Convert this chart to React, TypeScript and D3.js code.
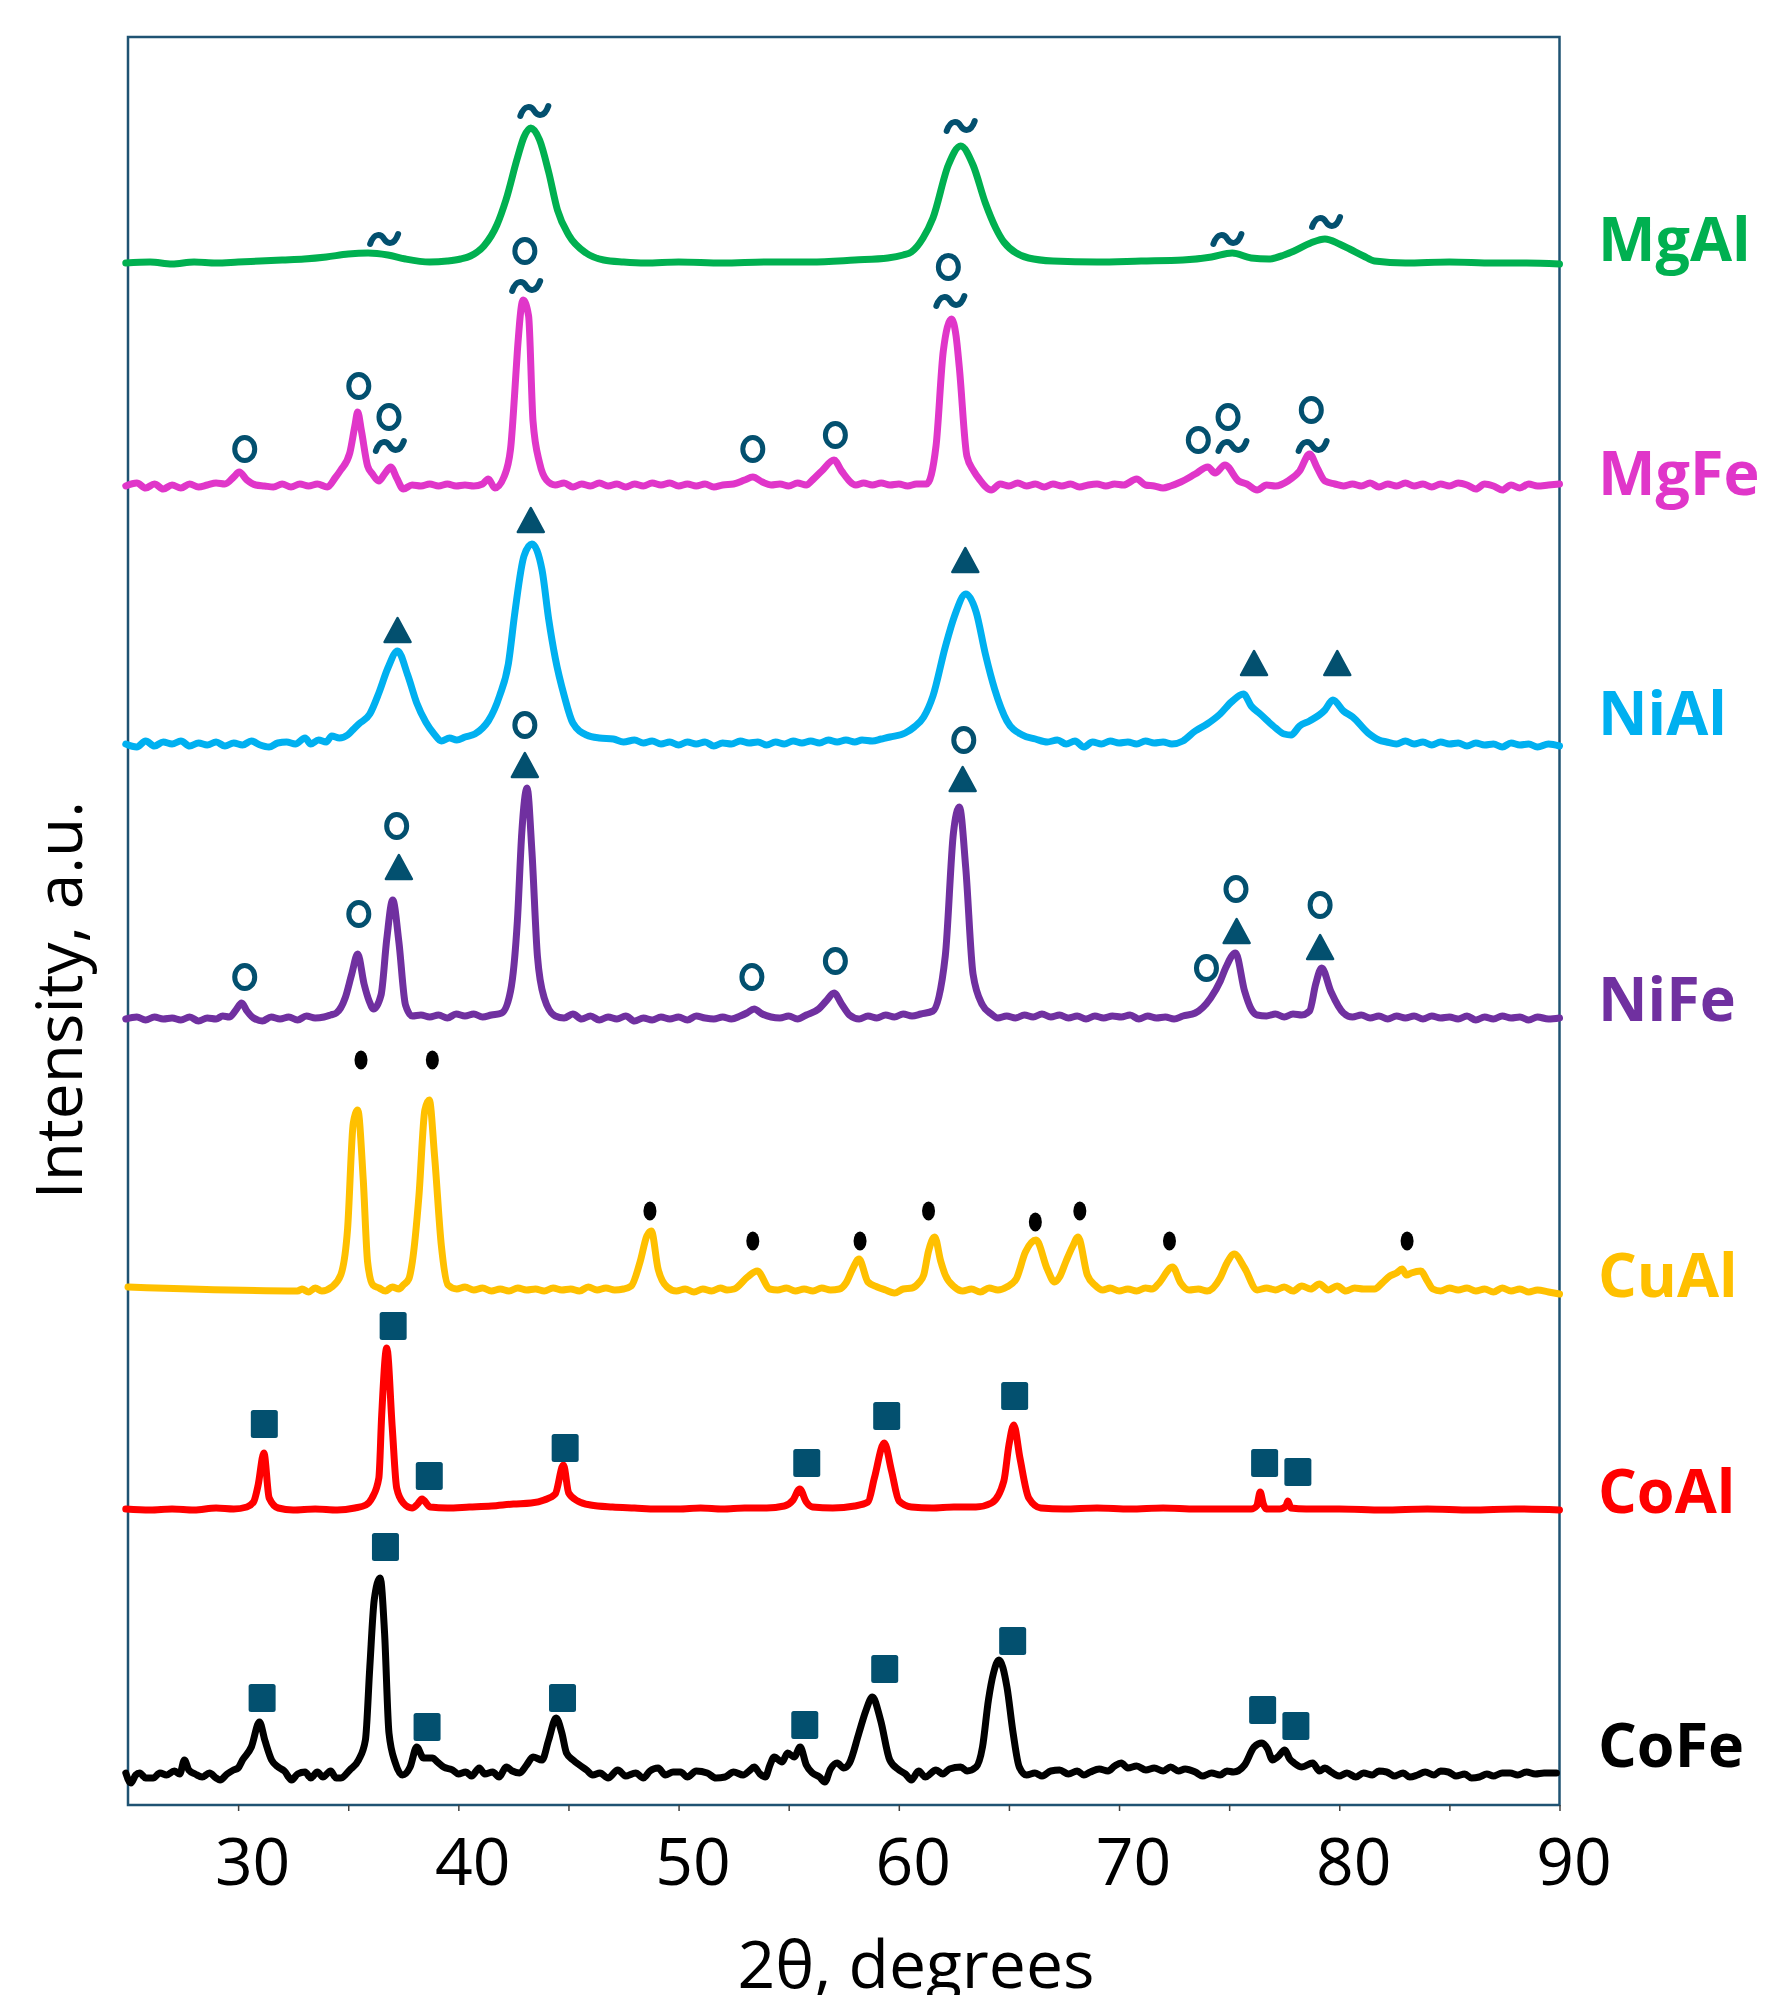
import * as d3 from 'd3'
import {useEffect, useRef} from 'react'

type Pt = [number, number]
type Mark = [number, number, string]

// 2θ (deg), intensity above the pattern's own baseline (a.u.)
const mgAl: Pt[] = [
  [24.9, 0], [26, 1], [27, -1], [28, 1], [29, 0], [30, 1], [31, 2], [32, 3], [33, 4], [34, 6], [35, 9], [35.9, 10],
  [36.8, 8], [37.6, 4], [38.7, 1], [39.5, 2], [40.1, 4], [40.55, 7], [41.16, 17], [41.75, 38], [42.16, 63], [42.68, 105],
  [42.98, 126], [43.29, 135], [43.69, 123], [44.1, 91], [44.5, 53], [45.01, 28], [45.8, 10], [46.6, 3], [47.5, 1],
  [48.5, 0], [50, 1], [52, 0], [54, 1], [56, 1], [58, 3], [59.5, 5], [60.2, 8], [60.57, 11], [61.1, 25], [61.55, 45],
  [62.25, 98], [62.81, 117], [63.37, 98], [63.93, 60], [64.4, 35], [64.77, 21], [65.89, 5], [67, 2], [69, 1], [71, 2],
  [72.9, 3], [74.2, 6], [75.14, 10], [76.0, 5], [76.8, 4], [77.5, 8], [77.95, 12], [78.7, 20], [79.35, 24], [80.0, 19],
  [80.47, 14], [81.1, 7], [81.6, 2], [83, 0], [85, 1], [87, 0], [88.5, 0], [90, -1],
]

const mgFe: Pt[] = [
  [24.9, 0], [25.4, 3], [25.8, -2], [26.2, 2], [26.6, -3], [27, 1], [27.4, -2], [27.8, 2], [28.2, -1], [28.6, 1], [29.0, 3],
  [29.4, 2], [29.8, 9], [30.05, 14], [30.4, 6], [30.8, 1], [31.2, 0], [31.6, -1], [32.0, 2], [32.4, -1], [32.8, 2], [33.2, 0],
  [33.6, 2], [34.05, -1], [34.4, 8], [34.66, 16], [35.07, 33], [35.3, 60], [35.43, 74], [35.6, 55], [35.88, 20], [36.1, 12],
  [36.39, 5], [36.65, 12], [36.93, 19], [37.2, 8], [37.5, -3], [37.9, 1], [38.3, 0], [38.7, 2], [39.1, 0], [39.5, 2], [39.9, 0],
  [40.3, 1], [40.7, 0], [41.1, 2], [41.36, 7], [41.66, -2], [42.07, 9], [42.37, 37], [42.55, 90], [42.68, 135], [42.94, 186],
  [43.19, 170], [43.39, 65], [43.69, 23], [44.0, 6], [44.4, 1], [44.8, 3], [45.2, -1], [45.6, 2], [46.0, 0], [46.4, 3], [46.8, 0],
  [47.2, 2], [47.6, -1], [48, 2], [48.4, 0], [48.8, 3], [49.2, 1], [49.6, 3], [50.0, 0], [50.4, 2], [50.8, 0], [51.2, 2],
  [51.6, -1], [52.0, 1], [52.5, 2], [53.0, 6], [53.37, 9], [53.8, 4], [54.2, 1], [54.6, 2], [55.0, 0], [55.4, 3], [55.8, 1],
  [56.08, 6], [56.5, 15], [57.06, 26], [57.4, 15], [58.05, 1], [58.4, 3], [58.8, 1], [59.2, 3], [59.6, 1], [60.0, 2], [60.4, 0],
  [60.8, 2], [61.27, 2], [61.69, 40], [62.02, 135], [62.39, 167], [62.6, 150], [62.75, 118], [63.09, 30], [63.4, 15],
  [63.65, 7], [64.2, -4], [64.6, 2], [65.0, 0], [65.4, 3], [65.8, 0], [66.2, 2], [66.6, -1], [67.0, 2], [67.4, 0], [67.8, 2],
  [68.2, -1], [68.6, 1], [69.0, 2], [69.4, 0], [69.8, 2], [70.2, 1], [70.8, 7], [71.2, 1], [71.6, 0], [72.0, -2], [72.34, 0],
  [72.8, 4], [73.46, 12], [74.03, 19], [74.36, 13], [74.81, 21], [75.43, 5], [75.8, 2], [76.27, -4], [76.7, 1], [77.1, 0],
  [77.67, 5], [78.2, 15], [78.65, 32], [79.0, 18], [79.35, 5], [79.8, 2], [80.19, 0], [80.6, 2], [81.0, 0], [81.4, 3],
  [81.8, -1], [82.2, 2], [82.6, 0], [83.0, 3], [83.4, 0], [83.8, 2], [84.2, -1], [84.6, 2], [85.0, 0], [85.4, 3], [85.8, 1],
  [86.2, -3], [86.6, 2], [87.0, 0], [87.4, -4], [87.8, 1], [88.2, -2], [88.6, 2], [89.0, 0], [89.5, 1], [90, 2],
]

const niAl: Pt[] = [
  [24.9, 0], [25.4, -3], [25.8, 3], [26.2, -2], [26.6, 2], [27.0, 0], [27.4, 3], [27.8, -2], [28.2, 1], [28.6, -1], [29.0, 2],
  [29.4, -2], [29.8, 1], [30.2, -1], [30.6, 3], [31.0, -1], [31.4, -3], [31.8, 1], [32.2, 2], [32.6, 0], [33.04, 6], [33.3, 0],
  [33.65, 4], [34.0, 2], [34.25, 8], [34.6, 6], [34.97, 9], [35.2, 14], [35.48, 20], [35.98, 30], [36.39, 51], [36.8, 76],
  [37.24, 93], [37.7, 69], [38.11, 41], [38.52, 22], [38.9, 10], [39.23, 3], [39.6, 6], [39.93, 4], [40.3, 7], [40.75, 10],
  [41.1, 16], [41.36, 23], [41.87, 48], [42.27, 80], [42.57, 132], [42.98, 188], [43.34, 200], [43.8, 174], [44.1, 125],
  [44.4, 86], [44.81, 48], [45.2, 21], [45.82, 9], [46.4, 6], [47.04, 5], [47.5, 2], [48.0, 4], [48.4, 1], [48.8, 3], [49.2, 0],
  [49.6, 2], [50.0, -1], [50.4, 2], [50.8, 0], [51.2, 2], [51.6, -2], [52.0, 1], [52.4, 0], [52.8, 3], [53.2, 1], [53.6, 2],
  [54.0, -1], [54.4, 2], [54.8, 0], [55.2, 3], [55.6, 1], [56.0, 3], [56.4, 1], [56.8, 4], [57.2, 2], [57.6, 4], [58.0, 2],
  [58.33, 4], [58.8, 3], [59.2, 5], [59.6, 7], [60.29, 11], [60.7, 17], [61.13, 27], [61.55, 48], [62.11, 97], [62.53, 128],
  [63.04, 150], [63.51, 132], [63.93, 90], [64.35, 55], [64.91, 23], [65.61, 9], [66.2, 5], [66.74, 2], [67.2, 4], [67.6, 0],
  [68.0, 3], [68.4, -3], [68.8, 2], [69.2, 0], [69.6, 3], [70.0, 1], [70.4, 2], [70.8, 0], [71.2, 3], [71.6, 1], [72.0, 2],
  [72.4, 0], [72.9, 3], [73.46, 13], [74.0, 20], [74.59, 30], [75.1, 42], [75.65, 50], [76.0, 38], [76.41, 30], [77.11, 16],
  [77.5, 10], [77.81, 9], [78.2, 18], [78.65, 23], [79.35, 34], [79.71, 44], [80.19, 33], [80.61, 27], [81.31, 11], [81.8, 4],
  [82.15, 2], [82.6, 0], [83.0, 3], [83.4, 0], [83.8, 2], [84.2, -1], [84.6, 2], [85.0, 0], [85.4, 1], [85.8, -2], [86.2, 1],
  [86.6, -1], [87.0, 0], [87.4, -3], [87.8, 1], [88.2, -1], [88.6, 0], [89.0, -3], [89.5, 0], [90, -2],
]

const niFe: Pt[] = [
  [24.9, 0], [25.4, 2], [25.8, -1], [26.2, 2], [26.6, 0], [27.0, 1], [27.4, -1], [27.8, 2], [28.2, -2], [28.6, 1], [29.0, 0],
  [29.3, 3], [29.6, 2], [29.9, 9], [30.16, 16], [30.4, 8], [30.7, 1], [31.1, -2], [31.5, 2], [31.9, 0], [32.3, 2], [32.7, -1],
  [33.1, 3], [33.5, 1], [33.9, 2], [34.2, 4], [34.46, 6], [34.86, 21], [35.16, 45], [35.43, 65], [35.72, 35], [35.95, 18],
  [36.15, 10], [36.49, 24], [36.75, 80], [37.02, 119], [37.3, 77], [37.6, 14], [37.91, 3], [38.3, 4], [38.7, 2], [39.1, 4],
  [39.5, 1], [39.9, 5], [40.3, 3], [40.7, 5], [41.1, 2], [41.5, 4], [41.97, 6], [42.37, 28], [42.68, 98], [42.88, 186],
  [43.12, 231], [43.34, 168], [43.59, 63], [43.9, 21], [44.4, 3], [44.8, 1], [45.2, 5], [45.6, 0], [46.0, 3], [46.4, -1],
  [46.8, 2], [47.2, 0], [47.6, 3], [48.0, -2], [48.4, 1], [48.8, -1], [49.2, 2], [49.6, 0], [50.0, 2], [50.4, -1], [50.8, 3],
  [51.2, 1], [51.6, 0], [52.0, 2], [52.4, 0], [52.8, 3], [53.1, 6], [53.43, 10], [53.8, 5], [54.2, 2], [54.6, 1], [55.0, 3],
  [55.4, 0], [55.8, 4], [56.36, 10], [56.7, 18], [57.06, 26], [57.4, 15], [57.76, 4], [58.2, 0], [58.6, 3], [59.0, 1], [59.4, 4],
  [59.8, 2], [60.2, 5], [60.6, 3], [61.0, 5], [61.55, 8], [62.11, 63], [62.48, 186], [62.75, 212], [63.04, 151], [63.37, 45],
  [63.8, 14], [64.2, 5], [64.49, 1], [64.9, 3], [65.3, 1], [65.7, 4], [66.1, 2], [66.5, 5], [66.9, 2], [67.3, 4], [67.7, 1],
  [68.1, 3], [68.5, 0], [68.9, 3], [69.3, 1], [69.7, 3], [70.1, 2], [70.5, 4], [70.9, 0], [71.3, 3], [71.7, 1], [72.1, 2],
  [72.5, 0], [72.9, 3], [73.46, 6], [74.16, 21], [74.6, 38], [74.86, 52], [75.29, 66], [75.7, 28], [76.0, 10], [76.27, 4],
  [76.7, 3], [77.1, 5], [77.5, 2], [77.9, 5], [78.3, 4], [78.65, 8], [78.93, 35], [79.2, 51], [79.63, 27], [80.19, 6], [80.6, 2],
  [81.0, 4], [81.4, 1], [81.8, 3], [82.2, 0], [82.6, 3], [83.0, 1], [83.4, 3], [83.8, 0], [84.2, 3], [84.6, 1], [85.0, 2],
  [85.4, 0], [85.8, 3], [86.2, -1], [86.6, 2], [87.0, 0], [87.4, 3], [87.8, 1], [88.2, 2], [88.6, -1], [89.0, 2], [89.5, 0], [90, 1],
]

const cuAl: Pt[] = [
  [25.0, 4], [32.7, 0], [32.9, 2], [33.2, -1], [33.5, 3], [33.8, 0], [34.25, 4], [34.66, 16], [34.97, 62], [35.23, 168],
  [35.43, 181], [35.68, 112], [35.88, 29], [36.12, 6], [36.4, 3], [36.69, 0], [37.0, 4], [37.3, 2], [37.5, 6], [37.75, 12],
  [37.91, 29], [38.21, 95], [38.48, 181], [38.68, 191], [38.92, 135], [39.23, 45], [39.53, 6], [39.93, 2], [40.3, 4], [40.7, 1],
  [41.1, 3], [41.5, 0], [41.9, 2], [42.3, 0], [42.7, 3], [43.1, 1], [43.5, 2], [43.9, 0], [44.3, 3], [44.7, 1], [45.1, 2],
  [45.5, 0], [45.9, 4], [46.3, 1], [46.7, 3], [47.1, 1], [47.5, 2], [47.85, 5], [48.25, 29], [48.56, 55], [48.76, 60],
  [49.07, 22], [49.48, 4], [49.9, 0], [50.3, 2], [50.7, -1], [51.1, 2], [51.5, 0], [51.9, 3], [52.2, 1], [52.52, 2], [53.13, 14],
  [53.57, 20], [54.14, 2], [54.5, 1], [54.9, 3], [55.3, 0], [55.7, 2], [56.1, 0], [56.5, 3], [56.9, 1], [57.3, 2], [57.6, 8],
  [57.9, 22], [58.19, 32], [58.6, 9], [59.02, 4], [59.4, 1], [59.8, -2], [60.2, 2], [60.6, 3], [60.9, 8], [61.13, 16],
  [61.35, 40], [61.63, 54], [61.9, 30], [62.11, 16], [62.53, 4], [62.9, 0], [63.3, 2], [63.7, -1], [64.1, 3], [64.5, 1],
  [64.9, 4], [65.33, 12], [65.75, 39], [66.23, 51], [66.74, 22], [67.07, 9], [67.3, 14], [67.58, 29], [67.9, 45], [68.14, 54],
  [68.56, 16], [68.9, 6], [69.26, 1], [69.6, 3], [70.0, 0], [70.4, 2], [70.8, 0], [71.2, 3], [71.5, 2], [71.78, 7], [72.43, 24],
  [72.8, 8], [73.18, 1], [73.6, 2], [74.0, 0], [74.59, 13], [74.9, 28], [75.23, 37], [75.7, 23], [76.27, 1], [76.7, 3],
  [77.1, 1], [77.5, 4], [77.9, 0], [78.3, 5], [78.7, 2], [79.1, 7], [79.5, 1], [79.9, 5], [80.3, 0], [80.7, 3], [81.1, 2],
  [81.6, 2], [81.95, 8], [82.3, 15], [82.6, 18], [82.85, 22], [83.05, 16], [83.27, 18], [83.7, 20], [84.0, 10], [84.25, 2],
  [84.6, 0], [85.0, 3], [85.4, 1], [85.8, 3], [86.2, 0], [86.6, 2], [87.0, -1], [87.4, 3], [87.8, 0], [88.2, 2], [88.6, -1],
  [89.0, 1], [89.5, -1], [90, -3],
]

const coAl: Pt[] = [
  [24.9, 1], [26, 0], [27, 1], [28, 0], [29, 2], [29.8, 1], [30.4, 3], [30.7, 8], [30.91, 25], [31.17, 57], [31.41, 12],
  [31.82, 2], [32.5, 0], [33.5, 1], [34.5, 0], [35.3, 2], [35.8, 5], [36.08, 12], [36.39, 32], [36.52, 95], [36.75, 162],
  [37.0, 82], [37.2, 22], [37.5, 7], [37.9, 2], [38.15, 6], [38.35, 11], [38.72, 3], [39.5, 2], [40.5, 3], [41.5, 4], [42.5, 6],
  [43.3, 7], [43.9, 10], [44.4, 16], [44.77, 45], [45.01, 17], [45.42, 9], [46, 5], [47, 3], [48, 2], [49, 1], [50, 1], [51, 2],
  [52, 1], [53, 2], [54, 2], [54.8, 4], [55.2, 10], [55.5, 21], [55.8, 8], [56.08, 3], [57, 2], [58, 4], [58.6, 8], [58.89, 32],
  [59.34, 67], [59.67, 39], [60.01, 9], [60.57, 3], [61.5, 2], [62.5, 3], [63.5, 3], [64.21, 7], [64.77, 29], [65.0, 65],
  [65.22, 85], [65.5, 52], [65.9, 12], [66.45, 2], [67.5, 1], [69, 2], [70.5, 1], [72, 2], [73.5, 1], [75, 1], [76.0, 1],
  [76.25, 4], [76.41, 18], [76.55, 6], [76.69, 1], [77.3, 1], [77.58, 4], [77.67, 9], [77.8, 2], [78.5, 1], [80, 1], [82, 0],
  [84, 1], [86, 0], [88, 1], [90, 0],
]

const coFe: Pt[] = [
  [24.9, 4], [25.13, -6], [25.35, 2], [25.53, 4], [25.8, -1], [26.14, -1], [26.45, 4], [26.75, 2], [27.1, 6], [27.35, 3],
  [27.56, 17], [27.76, 7], [28.05, 3], [28.37, 0], [28.7, 4], [29.0, -1], [29.18, -3], [29.5, 3], [29.79, 7], [30.0, 9],
  [30.2, 17], [30.6, 30], [30.97, 55], [31.21, 37], [31.52, 17], [31.82, 10], [32.1, 6], [32.43, -3], [32.7, 3], [33.04, 5],
  [33.3, -1], [33.6, 5], [33.85, 0], [34.2, 6], [34.45, -1], [34.66, -1], [35.07, 7], [35.47, 17], [35.78, 37], [35.98, 110],
  [36.18, 177], [36.45, 199], [36.65, 144], [36.85, 44], [37.14, 14], [37.46, 2], [37.81, 10], [38.11, 30], [38.42, 19],
  [38.82, 19], [39.05, 15], [39.33, 10], [39.74, 7], [40.0, 3], [40.34, 5], [40.6, 1], [40.95, 9], [41.2, 3], [41.56, 5],
  [41.85, 0], [42.17, 10], [42.45, 6], [42.78, 4], [43.1, 12], [43.39, 20], [43.8, 17], [44.1, 37], [44.44, 59], [44.7, 44],
  [44.91, 24], [45.21, 17], [45.5, 12], [45.82, 7], [46.1, 2], [46.43, 4], [46.8, -1], [47.24, 7], [47.6, 1], [48.05, 4],
  [48.4, -1], [48.7, 6], [49.07, 9], [49.4, 2], [49.75, 5], [50.09, 5], [50.4, 0], [50.8, 6], [51.3, 4], [51.7, -1], [52.11, 0],
  [52.5, 5], [52.93, 2], [53.2, 6], [53.43, 10], [53.7, 3], [53.94, 0], [54.15, 12], [54.34, 20], [54.7, 15], [54.95, 24],
  [55.25, 20], [55.52, 30], [55.8, 12], [56.08, 4], [56.4, 0], [56.64, -5], [56.9, 8], [57.2, 14], [57.5, 9], [57.76, 14],
  [58.19, 44], [58.5, 66], [58.8, 80], [59.17, 57], [59.59, 17], [60.01, 7], [60.3, 3], [60.57, -3], [60.9, 6], [61.2, 0],
  [61.69, 7], [62.0, 3], [62.3, 8], [62.81, 10], [63.1, 6], [63.51, 10], [63.8, 30], [64.07, 77], [64.3, 104], [64.55, 117],
  [64.91, 90], [65.19, 44], [65.47, 10], [65.8, 2], [66.18, 4], [66.5, 1], [66.9, 6], [67.3, 7], [67.7, 3], [68.1, 6], [68.4, 2],
  [68.7, 5], [69.1, 8], [69.5, 6], [69.8, 11], [70.1, 14], [70.4, 9], [70.8, 11], [71.22, 7], [71.6, 9], [72.0, 6], [72.34, 10],
  [72.7, 6], [73.0, 8], [73.46, 5], [73.8, 1], [74.2, 4], [74.59, 2], [74.9, 6], [75.2, 5], [75.7, 12], [76.13, 30], [76.49, 34],
  [76.75, 28], [76.97, 17], [77.2, 20], [77.53, 27], [77.75, 18], [77.95, 14], [78.3, 10], [78.79, 14], [79.1, 6], [79.35, 9],
  [79.63, 5], [80.0, 1], [80.35, 4], [80.75, 0], [81.1, 4], [81.5, 2], [81.8, 6], [82.15, 5], [82.5, 1], [82.9, 4], [83.2, 0],
  [83.55, 2], [83.9, 5], [84.3, 2], [84.6, 6], [84.95, 5], [85.3, 1], [85.7, 3], [86.0, -1], [86.36, 0], [86.7, 3], [87.0, 1],
  [87.4, 4], [87.76, 4], [88.1, 2], [88.5, 5], [88.9, 3], [89.3, 4], [89.86, 4],
]

// phase markers: 2θ, level above the pattern's baseline, symbol
// t = tilde, o = open circle, a = triangle, s = square, d = black dot
const mgAlMarks: Mark[] = [[36.63, 24, 't'], [43.45, 152, 't'], [62.81, 137, 't'], [74.92, 24, 't'], [79.4, 41, 't']]
const mgFeMarks: Mark[] = [
  [30.3, 37, 'o'], [35.48, 100, 'o'], [36.85, 69, 'o'], [36.89, 40, 't'], [43.02, 235, 'o'], [43.08, 200, 't'],
  [53.37, 37, 'o'], [57.12, 51, 'o'], [62.25, 219, 'o'], [62.34, 185, 't'], [73.6, 46, 'o'], [74.95, 69, 'o'],
  [75.15, 40, 't'], [78.73, 76, 'o'], [78.79, 40, 't'],
]
const niAlMarks: Mark[] = [[37.24, 114, 'a'], [43.29, 224, 'a'], [63.02, 184, 'a'], [76.13, 81, 'a'], [79.91, 81, 'a']]
const niFeMarks: Mark[] = [
  [30.3, 42, 'o'], [35.48, 105, 'o'], [37.2, 193, 'o'], [37.3, 152, 'a'], [43.02, 294, 'o'], [43.02, 254, 'a'],
  [53.33, 42, 'o'], [57.12, 58, 'o'], [62.95, 279, 'o'], [62.9, 240, 'a'], [73.97, 51, 'o'], [75.31, 130, 'o'],
  [75.34, 88, 'a'], [79.13, 114, 'o'], [79.13, 72, 'a'],
]
const cuAlMarks: Mark[] = [
  [35.58, 231, 'd'], [38.82, 231, 'd'], [48.7, 80, 'd'], [53.37, 50, 'd'], [58.24, 50, 'd'], [61.35, 80, 'd'],
  [66.2, 69, 'd'], [68.22, 80, 'd'], [72.29, 50, 'd'], [83.08, 50, 'd'],
]
const coAlMarks: Mark[] = [
  [31.19, 86, 's'], [37.04, 184, 's'], [38.68, 34, 's'], [44.85, 62, 's'], [55.82, 47, 's'], [59.45, 94, 's'],
  [65.26, 114, 's'], [76.61, 47, 's'], [78.12, 38, 's'],
]
const coFeMarks: Mark[] = [
  [31.09, 79, 's'], [36.69, 230, 's'], [38.58, 50, 's'], [44.73, 79, 's'], [55.73, 52, 's'], [59.36, 108, 's'],
  [65.17, 136, 's'], [76.52, 67, 's'], [78.03, 51, 's'],
]

const seriesNames = ['MgAl', 'MgFe', 'NiAl', 'NiFe', 'CuAl', 'CoAl', 'CoFe']
const seriesData = [mgAl, mgFe, niAl, niFe, cuAl, coAl, coFe]
const seriesMarks = [mgAlMarks, mgFeMarks, niAlMarks, niFeMarks, cuAlMarks, coAlMarks, coFeMarks]
const seriesOffsets = [1542, 1319, 1061, 786, 514, 295, 28]
const seriesColors = ['#00b050', '#e036c9', '#00b0f0', '#7030a0', '#ffc000', '#ff0000', '#000000']
const labelShift = [-2, 9, -9, 2, 6, 3, -10]
const xTickValues = [30, 35, 40, 45, 50, 55, 60, 65, 70, 75, 80, 85, 90]

const FONT = "'Open Sans', 'Noto Sans', sans-serif"
const MARK = '#03506f'

export default function App() {
  const ref = useRef<SVGSVGElement>(null)

  useEffect(() => {
    const width = 1767
    const height = 1995
    const left = 128
    const right = 1559.5
    const top = 37
    const bottom = 1805
    const svg = d3.select(ref.current)
    svg.selectAll('*').remove()
    svg.attr('width', width).attr('height', height)

    const x = d3.scaleLinear().domain([25, 90]).range([left, right])
    const y = d3.scaleLinear().domain([0, bottom - top]).range([bottom, top])

    svg
      .append('rect')
      .attr('x', left)
      .attr('y', top)
      .attr('width', right - left)
      .attr('height', bottom - top)
      .attr('fill', 'none')
      .attr('stroke', '#1f5373')
      .attr('stroke-width', 2.5)

    const xAxis = d3
      .axisBottom(x)
      .tickValues(xTickValues)
      .tickSize(6)
      .tickFormat(d => (+d % 10 === 0 ? String(d) : ''))
    const gx = svg.append('g').attr('transform', 'translate(0,' + bottom + ')').call(xAxis)
    gx.select('.domain').remove()
    gx.selectAll('line').attr('stroke', '#404040').attr('stroke-width', 1.5)
    gx.selectAll('text')
      .attr('x', 14)
      .attr('y', 80)
      .attr('dy', 0)
      .attr('fill', '#000')
      .attr('font-family', FONT)
      .attr('font-size', 66)

    const line = d3
      .line<Pt>()
      .curve(d3.curveMonotoneX)

    seriesData.forEach((data, i) => {
      const off = seriesOffsets[i]
      line.x(d => x(d[0])).y(d => y(d[1] + off))
      svg
        .append('path')
        .attr('d', line(data) || '')
        .attr('fill', 'none')
        .attr('stroke', seriesColors[i])
        .attr('stroke-width', 7)
        .attr('stroke-linejoin', 'round')
        .attr('stroke-linecap', 'round')

      svg
        .append('text')
        .attr('x', 1598)
        .attr('y', y(off) + labelShift[i])
        .attr('fill', seriesColors[i])
        .attr('font-family', FONT)
        .attr('font-weight', 'bold')
        .attr('font-size', 61)
        .text(seriesNames[i])

      const g = svg.append('g')
      for (const m of seriesMarks[i]) {
        const mg = g.append('g').attr('transform', 'translate(' + x(m[0]) + ',' + y(m[1] + off) + ')')
        if (m[2] === 't') {
          mg.append('path')
            .attr('d', 'M-14,5 C-10,-7 -3,-5 0,0 C3,5 10,7 14,-5')
            .attr('fill', 'none')
            .attr('stroke', MARK)
            .attr('stroke-width', 6)
            .attr('stroke-linecap', 'round')
        } else if (m[2] === 'o') {
          mg.append('ellipse')
            .attr('rx', 10)
            .attr('ry', 11.5)
            .attr('fill', 'none')
            .attr('stroke', MARK)
            .attr('stroke-width', 5)
        } else if (m[2] === 'a') {
          mg.append('path')
            .attr('d', 'M0,-12 L13,12 L-13,12 Z')
            .attr('fill', MARK)
            .attr('stroke', MARK)
            .attr('stroke-width', 2.5)
            .attr('stroke-linejoin', 'round')
        } else if (m[2] === 's') {
          mg.append('rect')
            .attr('x', -13.5)
            .attr('y', -14)
            .attr('width', 27)
            .attr('height', 28)
            .attr('rx', 2.5)
            .attr('fill', MARK)
        } else {
          mg.append('ellipse').attr('rx', 6.5).attr('ry', 9.5).attr('fill', '#000')
        }
      }
    })

    svg
      .append('text')
      .attr('transform', 'translate(82,1000) rotate(-90)')
      .attr('text-anchor', 'middle')
      .attr('font-family', FONT)
      .attr('font-size', 64)
      .attr('fill', '#000')
      .text('Intensity, a.u.')

    svg
      .append('text')
      .attr('x', 916)
      .attr('y', 1988)
      .attr('text-anchor', 'middle')
      .attr('font-family', FONT)
      .attr('font-size', 66)
      .attr('fill', '#000')
      .text('2θ, degrees')
  }, [])

  return (
    <div style={{position: 'absolute', left: 0, top: 0}}>
      <svg ref={ref} width={1767} height={1995} style={{display: 'block', background: '#fff'}} />
    </div>
  )
}
